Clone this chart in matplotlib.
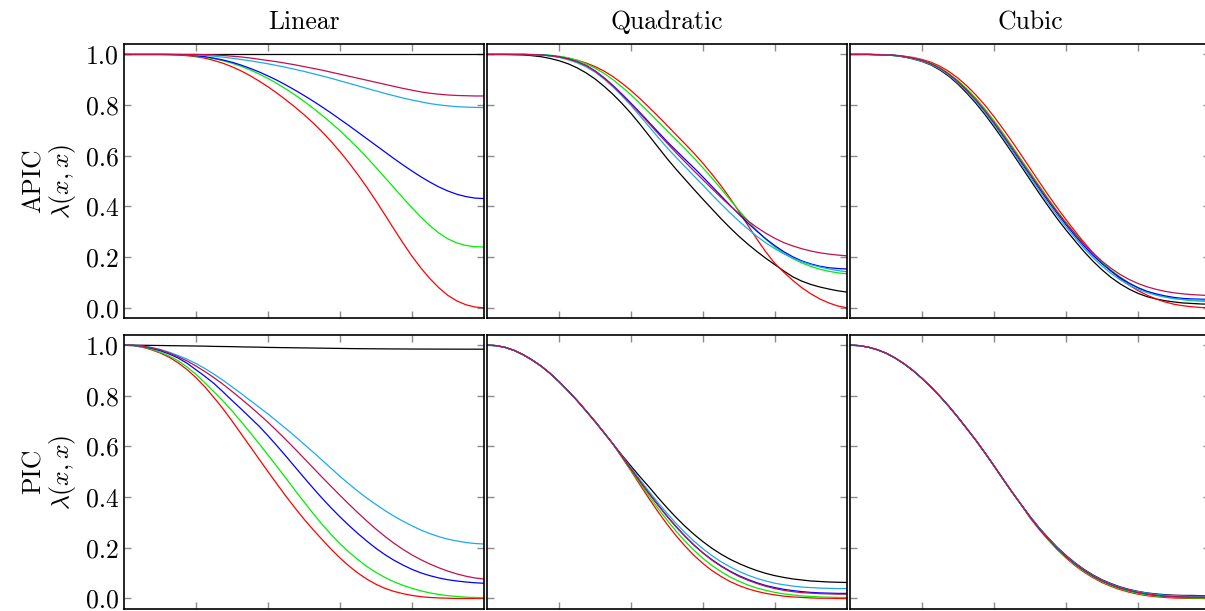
import matplotlib
matplotlib.use("Agg")
import matplotlib.pyplot as plt

plt.rcParams["font.family"] = "serif"
plt.rcParams["font.serif"] = ["cmr10"]
plt.rcParams["mathtext.fontset"] = "cm"
plt.rcParams["axes.formatter.use_mathtext"] = True

# sample positions across the cell
X = [0.0, 0.025, 0.05, 0.075, 0.1, 0.125, 0.15, 0.175, 0.2, 0.225,
     0.25, 0.275, 0.3, 0.325, 0.35, 0.375, 0.4, 0.425, 0.45, 0.475,
     0.5, 0.525, 0.55, 0.575, 0.6, 0.625, 0.65, 0.675, 0.7, 0.725,
     0.75, 0.775, 0.8, 0.825, 0.85, 0.875, 0.9, 0.925, 0.95, 0.975, 1.0]

SERIES = ["black", "red", "green", "blue", "cyan", "purple"]
COLORS = {"black": "black", "red": "#ff0000", "green": "#00ee00",
          "blue": "#0000ff", "cyan": "#1aaaf0", "purple": "#c0104f"}

# ---- APIC, linear kernel ----
lin_apic = {
    "black": [1.0] * 41,
    "red": [1.0, 1.0, 1.0, 1.0, 1.0, 0.999, 0.998, 0.995, 0.991, 0.985,
            0.976, 0.965, 0.951, 0.935, 0.916, 0.895, 0.872, 0.847, 0.82, 0.792,
            0.762, 0.73, 0.695, 0.657, 0.616, 0.572, 0.525, 0.475, 0.422, 0.367,
            0.311, 0.256, 0.204, 0.157, 0.115, 0.079, 0.049, 0.027, 0.012, 0.003, 0.0],
    "green": [1.0, 1.0, 1.0, 1.0, 1.0, 1.0, 0.999, 0.997, 0.994, 0.989,
              0.983, 0.975, 0.965, 0.953, 0.939, 0.923, 0.905, 0.885, 0.863, 0.84,
              0.815, 0.788, 0.76, 0.73, 0.699, 0.665, 0.63, 0.593, 0.554, 0.514,
              0.474, 0.434, 0.395, 0.358, 0.324, 0.295, 0.272, 0.256, 0.246, 0.241, 0.24],
    "blue": [1.0, 1.0, 1.0, 1.0, 1.0, 1.0, 0.999, 0.998, 0.995, 0.991,
             0.985, 0.978, 0.969, 0.958, 0.945, 0.931, 0.915, 0.898, 0.879, 0.859,
             0.838, 0.816, 0.793, 0.769, 0.744, 0.719, 0.693, 0.667, 0.641, 0.615,
             0.589, 0.564, 0.54, 0.517, 0.496, 0.477, 0.461, 0.448, 0.439, 0.433, 0.431],
    "cyan": [1.0, 1.0, 1.0, 1.0, 1.0, 1.0, 1.0, 0.999, 0.998, 0.996,
             0.993, 0.989, 0.985, 0.98, 0.975, 0.969, 0.963, 0.956, 0.949, 0.941,
             0.933, 0.924, 0.915, 0.906, 0.896, 0.886, 0.876, 0.866, 0.856, 0.846,
             0.837, 0.828, 0.82, 0.813, 0.806, 0.801, 0.797, 0.794, 0.792, 0.791, 0.79],
    "purple": [1.0, 1.0, 1.0, 1.0, 1.0, 1.0, 1.0, 1.0, 1.0, 0.999,
               0.998, 0.996, 0.993, 0.99, 0.986, 0.981, 0.976, 0.971, 0.965, 0.959,
               0.952, 0.945, 0.938, 0.93, 0.922, 0.914, 0.906, 0.898, 0.89, 0.882,
               0.874, 0.866, 0.859, 0.852, 0.847, 0.843, 0.84, 0.838, 0.837, 0.836, 0.836],
}

# ---- APIC, quadratic kernel ----
quad_apic = {
    "black": [1.0, 1.0, 1.0, 0.999, 0.998, 0.995, 0.991, 0.984, 0.975, 0.963,
              0.947, 0.927, 0.903, 0.874, 0.842, 0.806, 0.767, 0.724, 0.679, 0.634,
              0.589, 0.547, 0.507, 0.467, 0.428, 0.39, 0.352, 0.316, 0.282, 0.251,
              0.222, 0.195, 0.17, 0.145, 0.122, 0.105, 0.092, 0.082, 0.074, 0.067, 0.062],
    "red": [1.0, 1.0, 1.0, 1.0, 1.0, 0.999, 0.998, 0.995, 0.991, 0.985,
            0.977, 0.966, 0.952, 0.934, 0.912, 0.886, 0.857, 0.825, 0.791, 0.756,
            0.72, 0.683, 0.647, 0.61, 0.57, 0.527, 0.482, 0.433, 0.38, 0.325,
            0.271, 0.22, 0.175, 0.14, 0.108, 0.079, 0.055, 0.035, 0.019, 0.007, 0.0],
    "green": [1.0, 1.0, 1.0, 1.0, 1.0, 1.0, 0.999, 0.997, 0.993, 0.987,
              0.977, 0.963, 0.946, 0.925, 0.9, 0.871, 0.84, 0.806, 0.771, 0.735,
              0.699, 0.664, 0.628, 0.591, 0.552, 0.512, 0.47, 0.427, 0.384, 0.343,
              0.305, 0.27, 0.24, 0.215, 0.194, 0.177, 0.163, 0.152, 0.144, 0.138, 0.134],
    "blue": [1.0, 1.0, 1.0, 1.0, 1.0, 0.999, 0.998, 0.995, 0.99, 0.982,
             0.971, 0.956, 0.935, 0.908, 0.877, 0.843, 0.807, 0.77, 0.732, 0.694,
             0.656, 0.621, 0.586, 0.552, 0.516, 0.479, 0.442, 0.405, 0.369, 0.334,
             0.302, 0.272, 0.245, 0.221, 0.201, 0.185, 0.173, 0.164, 0.158, 0.155, 0.153],
    "cyan": [1.0, 1.0, 1.0, 1.0, 1.0, 0.999, 0.997, 0.994, 0.988, 0.979,
             0.967, 0.951, 0.93, 0.903, 0.871, 0.836, 0.798, 0.757, 0.715, 0.673,
             0.632, 0.594, 0.557, 0.52, 0.484, 0.446, 0.41, 0.375, 0.342, 0.311,
             0.282, 0.256, 0.233, 0.213, 0.196, 0.182, 0.17, 0.161, 0.153, 0.147, 0.142],
    "purple": [1.0, 1.0, 1.0, 1.0, 1.0, 0.999, 0.998, 0.995, 0.99, 0.982,
               0.971, 0.956, 0.934, 0.906, 0.875, 0.84, 0.804, 0.766, 0.727, 0.688,
               0.65, 0.612, 0.576, 0.54, 0.505, 0.47, 0.436, 0.403, 0.372, 0.343,
               0.317, 0.294, 0.274, 0.257, 0.244, 0.233, 0.224, 0.217, 0.212, 0.208, 0.205],
}

# ---- APIC, cubic kernel ----
cub_apic = {
    "black": [1.0, 1.0, 1.0, 0.999, 0.998, 0.995, 0.99, 0.982, 0.972, 0.958,
              0.938, 0.913, 0.882, 0.846, 0.806, 0.762, 0.714, 0.664, 0.612, 0.559,
              0.506, 0.453, 0.402, 0.353, 0.307, 0.264, 0.222, 0.184, 0.15, 0.12,
              0.095, 0.074, 0.057, 0.044, 0.035, 0.028, 0.023, 0.019, 0.017, 0.015, 0.014],
    "red": [1.0, 1.0, 1.0, 1.0, 0.999, 0.997, 0.993, 0.988, 0.98, 0.969,
            0.953, 0.932, 0.906, 0.875, 0.839, 0.799, 0.754, 0.706, 0.656, 0.604,
            0.551, 0.498, 0.446, 0.396, 0.348, 0.302, 0.258, 0.217, 0.18, 0.146,
            0.116, 0.09, 0.068, 0.05, 0.035, 0.023, 0.014, 0.008, 0.004, 0.001, 0.0],
    "green": [1.0, 1.0, 1.0, 0.999, 0.999, 0.996, 0.992, 0.986, 0.977, 0.965,
              0.947, 0.924, 0.896, 0.863, 0.826, 0.784, 0.738, 0.689, 0.638, 0.586,
              0.535, 0.483, 0.432, 0.383, 0.337, 0.293, 0.252, 0.214, 0.18, 0.149,
              0.122, 0.099, 0.08, 0.065, 0.053, 0.044, 0.037, 0.032, 0.028, 0.026, 0.024],
    "blue": [1.0, 1.0, 1.0, 0.999, 0.998, 0.996, 0.991, 0.984, 0.975, 0.962,
             0.943, 0.919, 0.89, 0.856, 0.817, 0.774, 0.727, 0.678, 0.627, 0.575,
             0.524, 0.472, 0.422, 0.374, 0.328, 0.285, 0.244, 0.207, 0.174, 0.145,
             0.119, 0.097, 0.079, 0.065, 0.055, 0.047, 0.041, 0.037, 0.035, 0.034, 0.033],
    "cyan": [1.0, 1.0, 1.0, 0.999, 0.998, 0.995, 0.991, 0.983, 0.973, 0.96,
             0.941, 0.917, 0.887, 0.852, 0.813, 0.769, 0.722, 0.672, 0.62, 0.567,
             0.516, 0.464, 0.413, 0.365, 0.319, 0.276, 0.235, 0.198, 0.165, 0.136,
             0.111, 0.09, 0.073, 0.06, 0.05, 0.042, 0.036, 0.033, 0.031, 0.03, 0.029],
    "purple": [1.0, 1.0, 1.0, 0.999, 0.998, 0.996, 0.992, 0.985, 0.976, 0.963,
               0.945, 0.921, 0.892, 0.858, 0.82, 0.777, 0.731, 0.682, 0.631, 0.579,
               0.528, 0.477, 0.427, 0.379, 0.334, 0.292, 0.252, 0.216, 0.184, 0.156,
               0.132, 0.112, 0.096, 0.083, 0.073, 0.065, 0.059, 0.055, 0.052, 0.05, 0.048],
}

# ---- PIC, linear kernel ----
lin_pic = {
    "black": [1.0, 1.0, 0.9995, 0.999, 0.9985, 0.998, 0.9975, 0.997, 0.9965, 0.996,
              0.995, 0.9945, 0.994, 0.993, 0.9925, 0.992, 0.991, 0.9905, 0.99, 0.9895,
              0.989, 0.9885, 0.988, 0.9875, 0.987, 0.9865, 0.986, 0.9858, 0.9855, 0.9852,
              0.985, 0.9848, 0.9846, 0.9845, 0.9844, 0.9843, 0.9842, 0.9841, 0.984, 0.984, 0.984],
    "red": [1.0, 0.998, 0.992, 0.982, 0.969, 0.952, 0.93, 0.903, 0.871, 0.834,
            0.792, 0.748, 0.7, 0.65, 0.6, 0.55, 0.5, 0.451, 0.403, 0.357,
            0.313, 0.272, 0.233, 0.195, 0.16, 0.128, 0.1, 0.076, 0.056, 0.04,
            0.028, 0.019, 0.012, 0.007, 0.004, 0.002, 0.001, 0.0, 0.0, 0.0, 0.0],
    "green": [1.0, 0.998, 0.993, 0.984, 0.972, 0.957, 0.938, 0.913, 0.884, 0.85,
              0.815, 0.779, 0.74, 0.698, 0.655, 0.611, 0.566, 0.52, 0.474, 0.427,
              0.381, 0.336, 0.293, 0.253, 0.216, 0.183, 0.153, 0.126, 0.103, 0.083,
              0.066, 0.052, 0.04, 0.03, 0.022, 0.016, 0.011, 0.008, 0.005, 0.004, 0.003],
    "blue": [1.0, 0.999, 0.995, 0.988, 0.978, 0.965, 0.949, 0.928, 0.902, 0.876,
             0.848, 0.815, 0.781, 0.748, 0.714, 0.68, 0.642, 0.602, 0.561, 0.519,
             0.477, 0.436, 0.396, 0.358, 0.322, 0.288, 0.256, 0.226, 0.198, 0.173,
             0.151, 0.132, 0.115, 0.101, 0.09, 0.081, 0.074, 0.069, 0.065, 0.062, 0.06],
    "cyan": [1.0, 0.999, 0.996, 0.991, 0.983, 0.972, 0.959, 0.944, 0.927, 0.907,
             0.885, 0.861, 0.835, 0.809, 0.782, 0.755, 0.728, 0.699, 0.67, 0.64,
             0.609, 0.578, 0.546, 0.514, 0.482, 0.452, 0.423, 0.396, 0.371, 0.347,
             0.325, 0.305, 0.287, 0.27, 0.256, 0.244, 0.234, 0.227, 0.221, 0.217, 0.215],
    "purple": [1.0, 0.999, 0.996, 0.99, 0.981, 0.969, 0.954, 0.937, 0.917, 0.895,
               0.871, 0.845, 0.817, 0.788, 0.758, 0.727, 0.695, 0.661, 0.626, 0.59,
               0.553, 0.516, 0.479, 0.443, 0.407, 0.372, 0.338, 0.305, 0.274, 0.245,
               0.218, 0.194, 0.172, 0.153, 0.136, 0.121, 0.108, 0.097, 0.088, 0.081, 0.077],
}

# ---- PIC, quadratic kernel: identical up to x = 0.35 ----
quad_pic_head = [1.0, 0.998, 0.991, 0.979, 0.962, 0.941, 0.917, 0.888, 0.855, 0.819,
                 0.781, 0.74, 0.698, 0.654, 0.609]
quad_pic = {
    "black": quad_pic_head + [0.565, 0.522, 0.48, 0.44, 0.398, 0.358, 0.32, 0.285, 0.253, 0.224,
                              0.198, 0.175, 0.155, 0.138, 0.123, 0.11, 0.099, 0.09, 0.083, 0.077,
                              0.073, 0.069, 0.067, 0.065, 0.064, 0.063],
    "red": quad_pic_head + [0.556, 0.503, 0.448, 0.394, 0.342, 0.293, 0.248, 0.207, 0.17, 0.138,
                            0.11, 0.087, 0.067, 0.051, 0.038, 0.028, 0.02, 0.014, 0.009, 0.006,
                            0.004, 0.002, 0.001, 0.001, 0.0, 0.0],
    "green": quad_pic_head + [0.558, 0.506, 0.455, 0.404, 0.355, 0.309, 0.266, 0.226, 0.19, 0.158,
                              0.13, 0.106, 0.085, 0.068, 0.053, 0.041, 0.032, 0.024, 0.018, 0.014,
                              0.01, 0.008, 0.006, 0.005, 0.004, 0.004],
    "blue": quad_pic_head + [0.561, 0.512, 0.463, 0.415, 0.369, 0.325, 0.284, 0.246, 0.211, 0.18,
                             0.153, 0.129, 0.108, 0.09, 0.075, 0.062, 0.051, 0.043, 0.036, 0.031,
                             0.027, 0.024, 0.022, 0.021, 0.02, 0.02],
    "cyan": quad_pic_head + [0.562, 0.515, 0.468, 0.422, 0.378, 0.336, 0.296, 0.26, 0.226, 0.196,
                             0.169, 0.145, 0.125, 0.107, 0.092, 0.079, 0.069, 0.06, 0.054, 0.049,
                             0.045, 0.043, 0.041, 0.04, 0.039, 0.039],
    "purple": quad_pic_head + [0.561, 0.511, 0.462, 0.414, 0.368, 0.324, 0.283, 0.245, 0.21, 0.179,
                               0.151, 0.127, 0.106, 0.087, 0.072, 0.059, 0.048, 0.039, 0.032, 0.027,
                               0.023, 0.021, 0.019, 0.018, 0.017, 0.017],
}

# ---- PIC, cubic kernel: identical up to x = 0.475 ----
cub_pic_head = [1.0, 0.998, 0.992, 0.982, 0.968, 0.949, 0.926, 0.899, 0.868, 0.834,
                0.797, 0.757, 0.714, 0.669, 0.623, 0.574, 0.523, 0.471, 0.42, 0.371]
cub_pic = {
    "black": cub_pic_head + [0.324, 0.28, 0.24, 0.203, 0.17, 0.141, 0.115, 0.093, 0.074, 0.059,
                             0.046, 0.036, 0.028, 0.022, 0.018, 0.015, 0.013, 0.012, 0.012, 0.011, 0.011],
    "red": cub_pic_head + [0.318, 0.273, 0.232, 0.194, 0.16, 0.13, 0.104, 0.082, 0.063, 0.048,
                           0.035, 0.025, 0.017, 0.011, 0.007, 0.004, 0.002, 0.001, 0.0, 0.0, 0.0],
    "green": cub_pic_head + [0.32, 0.275, 0.234, 0.196, 0.163, 0.133, 0.107, 0.085, 0.066, 0.051,
                             0.038, 0.028, 0.02, 0.014, 0.01, 0.007, 0.005, 0.003, 0.002, 0.002, 0.002],
    "blue": cub_pic_head + [0.322, 0.277, 0.237, 0.199, 0.166, 0.137, 0.111, 0.089, 0.07, 0.055,
                            0.042, 0.032, 0.024, 0.018, 0.013, 0.01, 0.008, 0.007, 0.006, 0.006, 0.006],
    "cyan": cub_pic_head + [0.323, 0.279, 0.239, 0.201, 0.168, 0.139, 0.113, 0.091, 0.072, 0.057,
                            0.044, 0.034, 0.027, 0.021, 0.016, 0.013, 0.011, 0.01, 0.009, 0.009, 0.009],
    "purple": cub_pic_head + [0.322, 0.277, 0.237, 0.199, 0.166, 0.137, 0.111, 0.089, 0.07, 0.055,
                              0.042, 0.032, 0.024, 0.018, 0.013, 0.009, 0.007, 0.006, 0.005, 0.005, 0.005],
}

PANELS = [[lin_apic, quad_apic, cub_apic], [lin_pic, quad_pic, cub_pic]]
COL_TITLES = ["Linear", "Quadratic", "Cubic"]
ROW_LABELS = ["APIC", "PIC"]
YTICKS = [0.0, 0.2, 0.4, 0.6, 0.8, 1.0]
YTICKLABELS = ["0.0", "0.2", "0.4", "0.6", "0.8", "1.0"]
XTICKS = [0.2, 0.4, 0.6, 0.8]

W, H = 1205, 611
fig = plt.figure(figsize=(W / 100, H / 100), dpi=100)

# panel boxes in pixels (the last column runs a little past the right edge)
col_left = [124.3, 487.3, 850.3]
row_top = [44.3, 335.0]
box_w, box_h = 359.5, 273.6
FS = 18.5

for r in range(2):
    for c in range(3):
        l, t = col_left[c], row_top[r]
        ax = fig.add_axes([l / W, 1 - (t + box_h) / H, box_w / W, box_h / H])
        data = PANELS[r][c]
        for name in SERIES:
            ax.plot(X, data[name], color=COLORS[name], lw=0.9)
        ax.set_xlim(0, 1)
        ax.set_ylim(-0.04, 1.04)
        ax.set_xticks(XTICKS)
        ax.set_xticklabels([])
        ax.set_yticks(YTICKS)
        if c == 0:
            ax.set_yticklabels(YTICKLABELS, fontsize=FS)
            ax.set_ylabel(ROW_LABELS[r] + "\n" + r"$\lambda(x,x)$", fontsize=FS,
                          labelpad=6, linespacing=1.05)
        else:
            ax.set_yticklabels([])
        ax.tick_params(direction="in", top=True, right=True, length=5, width=1.0,
                       color="#8c8c8c", pad=4)
        for s in ax.spines.values():
            s.set_linewidth(1.2)
            s.set_color("black")
        if r == 0:
            ax.set_title(COL_TITLES[c], fontsize=FS, pad=11)

fig.savefig("out.png", dpi=100)
